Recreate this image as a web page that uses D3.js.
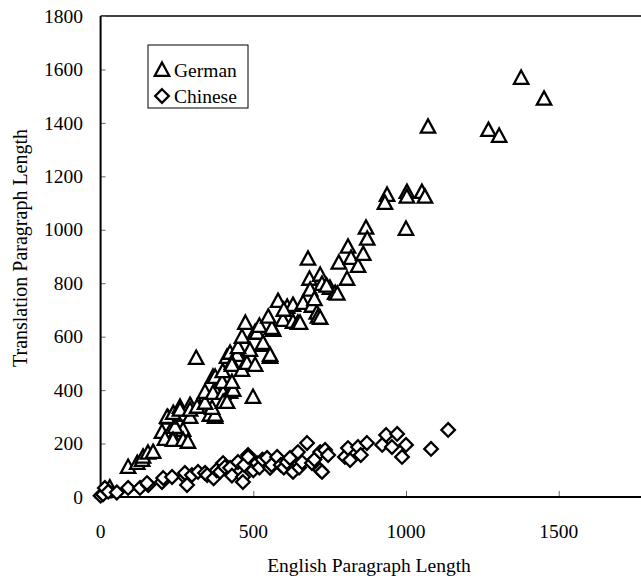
<meta charset="utf-8">
<head>
    <script type="text/javascript" src="https://cdn.jsdelivr.net/npm/d3@7/dist/d3.min.js"></script>
    <style>
        body { margin: 0; background: #ffffff; }
        text { font-family: "Liberation Serif", "DejaVu Serif", serif; fill: #000000; }
    </style>
</head>
<body>
    <svg width=641 height=579></svg>
</body>
<script>
    // [english length, translation length]
    let german = [
        [10, 20], [30, 35],
        [90, 112], [120, 127], [136, 138], [139, 150], [155, 165], [172, 168],
        [201, 243], [227, 243], [250, 251], [270, 251], [244, 262],
        [211, 217], [237, 213], [270, 213], [286, 206],
        [221, 296], [218, 299], [267, 307], [293, 299], [358, 307], [375, 299], [375, 307],
        [238, 314], [260, 337], [293, 344], [325, 337], [365, 333], [260, 326], [293, 326], [316, 337],
        [342, 352], [342, 393], [375, 400], [368, 389], [401, 389], [424, 393], [434, 400],
        [401, 355], [414, 355], [499, 374],
        [368, 449], [375, 449], [398, 430], [430, 430], [400, 470],
        [313, 520], [414, 524], [424, 539], [447, 539], [447, 531], [430, 501], [430, 494],
        [463, 475], [479, 501], [489, 550], [506, 494], [450, 560],
        [463, 599], [474, 651], [506, 617], [512, 614], [532, 569], [532, 576], [555, 524], [555, 531],
        [520, 640], [565, 625], [561, 632], [549, 674], [581, 733], [597, 662], [611, 711], [630, 655], [630, 718],
        [600, 700], [646, 651], [653, 651], [663, 726], [692, 715], [708, 689], [712, 674], [719, 670],
        [679, 891], [684, 816], [686, 775], [719, 831], [725, 797], [751, 782], [768, 763], [775, 760],
        [700, 740], [740, 790],
        [780, 876], [807, 816], [810, 936], [820, 894], [843, 864], [860, 909], [869, 1007], [873, 966],
        [938, 1130], [931, 1100], [1003, 1141], [1003, 1123], [1052, 1141], [1062, 1123], [1000, 1003],
        [1072, 1385], [1270, 1373], [1305, 1351], [1377, 1568], [1452, 1490]
    ];

    let chinese = [
        [0, 5], [8, 10], [14, 34], [25, 20], [53, 17], [90, 34], [129, 34], [156, 45], [152, 52],
        [201, 56], [205, 71], [234, 75], [276, 75], [283, 45], [276, 90], [299, 82], [319, 94],
        [342, 90], [349, 82], [370, 70], [380, 100], [391, 94], [401, 127], [407, 112], [424, 109],
        [430, 80], [450, 131], [466, 75], [466, 56], [470, 120], [483, 157], [483, 150], [500, 100],
        [512, 127], [520, 110], [530, 140], [545, 146], [555, 109], [560, 120], [578, 150], [590, 120],
        [600, 110], [610, 130], [620, 146], [630, 94], [646, 168], [650, 110], [660, 130], [676, 202],
        [692, 127], [700, 140], [719, 168], [719, 101], [725, 94], [735, 176], [745, 157], [800, 150],
        [810, 183], [817, 138], [843, 187], [852, 157], [872, 202], [922, 195], [935, 232], [954, 187],
        [971, 236], [987, 150], [1000, 195], [1082, 180], [1138, 251]
    ];

    let xTicks = [0, 500, 1000, 1500];
    let yTicks = [0, 200, 400, 600, 800, 1000, 1200, 1400, 1600, 1800];

    let plotLeft = 100.6, plotBottom = 497, plotTop = 16;

    let x = d3.scaleLinear()
        .domain([0, 1800])
        .range([plotLeft, plotLeft + 1800 * 0.3054]);

    let y = d3.scaleLinear()
        .domain([0, 1800])
        .range([plotBottom, plotTop]);

    let svg = d3.select('svg');

    // top border (the right side is cut off by the picture edge)
    svg.append("line")
        .attr("x1", plotLeft).attr("x2", 641)
        .attr("y1", plotTop).attr("y2", plotTop)
        .attr("stroke", "#000").attr("stroke-width", 1.5);

    // y axis: ticks point inward
    let yAxis = svg.append("g")
        .attr("transform", `translate(${plotLeft}, 0)`)
        .call(d3.axisRight(y).tickValues(yTicks).tickSize(5).tickFormat(""));
    yAxis.select(".domain").remove();
    yAxis.selectAll(".tick line").attr("stroke", "#666").attr("stroke-width", 1);

    svg.append("g").selectAll("text")
        .data(yTicks)
        .enter()
        .append("text")
        .attr("x", 83)
        .attr("y", function (d) { return y(d) })
        .attr("dy", ".34em")
        .attr("text-anchor", "end")
        .attr("font-size", 19.5)
        .text(function (d) { return d });

    // x axis: ticks point up
    let xAxis = svg.append("g")
        .attr("transform", `translate(0, ${plotBottom})`)
        .call(d3.axisTop(x).tickValues(xTicks.slice(1)).tickSize(6).tickFormat(""));
    xAxis.select(".domain").remove();
    xAxis.selectAll(".tick line").attr("stroke", "#666").attr("stroke-width", 1);

    svg.append("g").selectAll("text")
        .data(xTicks)
        .enter()
        .append("text")
        .attr("x", function (d) { return x(d) })
        .attr("y", 538)
        .attr("text-anchor", "middle")
        .attr("font-size", 19.5)
        .text(function (d) { return d });

    svg.append("line")
        .attr("x1", plotLeft).attr("x2", plotLeft)
        .attr("y1", plotTop).attr("y2", plotBottom)
        .attr("stroke", "#000").attr("stroke-width", 2);
    svg.append("line")
        .attr("x1", plotLeft - 1).attr("x2", 641)
        .attr("y1", plotBottom).attr("y2", plotBottom)
        .attr("stroke", "#000").attr("stroke-width", 2);

    // axis titles
    svg.append("text")
        .attr("x", 369)
        .attr("y", 572)
        .attr("text-anchor", "middle")
        .attr("font-size", 19.5)
        .text("English Paragraph Length");

    svg.append("text")
        .attr("transform", "translate(27, 248) rotate(-90)")
        .attr("text-anchor", "middle")
        .attr("font-size", 20)
        .text("Translation Paragraph Length");

    let triangle = "M0,-7.5L7.2,5.8L-7.2,5.8Z";
    let diamond = "M0,-6.8L6.8,0L0,6.8L-6.8,0Z";

    function markers(data, shape) {
        svg.append("g").selectAll("path")
            .data(data)
            .enter()
            .append("path")
            .attr("d", shape)
            .attr("transform", function (d) { return `translate(${x(d[0])}, ${y(d[1])})` })
            .attr("fill", "#fff")
            .attr("stroke", "#000")
            .attr("stroke-width", 2.3)
            .attr("stroke-linejoin", "miter");
    }

    markers(german, triangle);
    markers(chinese, diamond);

    // legend
    let legend = svg.append("g");
    legend.append("rect")
        .attr("x", 148).attr("y", 45)
        .attr("width", 100).attr("height", 63)
        .attr("fill", "#fff")
        .attr("stroke", "#000").attr("stroke-width", 1);
    legend.append("path")
        .attr("d", triangle)
        .attr("transform", "translate(162, 70)")
        .attr("fill", "#fff").attr("stroke", "#000").attr("stroke-width", 2.3);
    legend.append("text")
        .attr("x", 174).attr("y", 77)
        .attr("font-size", 19.5)
        .text("German");
    legend.append("path")
        .attr("d", diamond)
        .attr("transform", "translate(162, 96)")
        .attr("fill", "#fff").attr("stroke", "#000").attr("stroke-width", 2.3);
    legend.append("text")
        .attr("x", 174).attr("y", 103)
        .attr("font-size", 19.5)
        .text("Chinese");
</script>
